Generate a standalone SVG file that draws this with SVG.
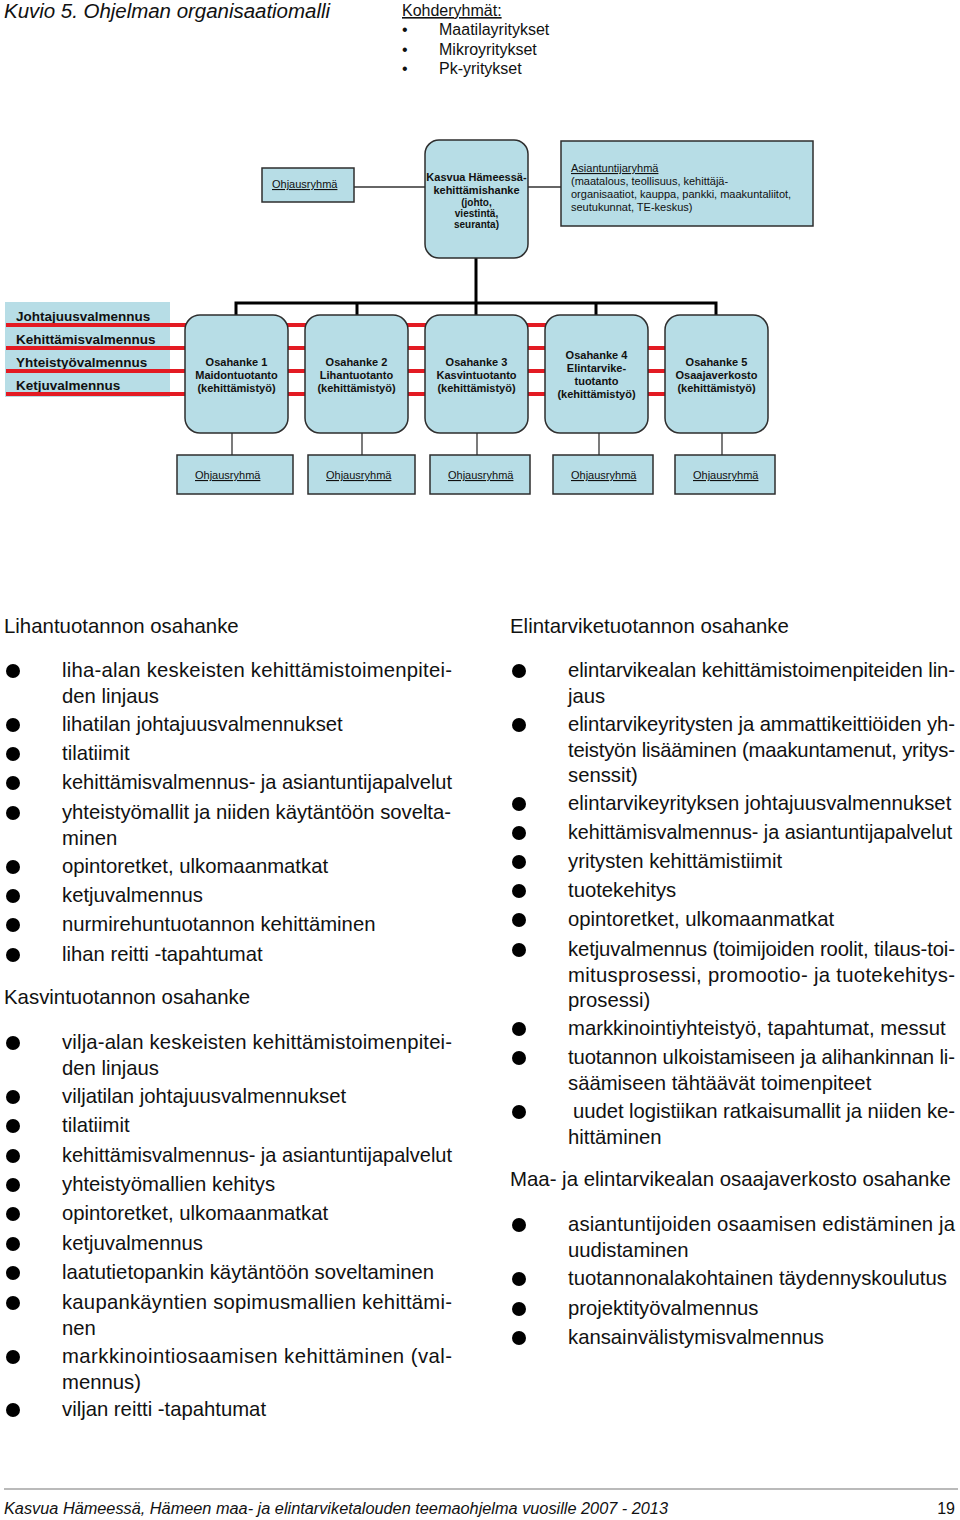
<svg xmlns="http://www.w3.org/2000/svg" width="960" height="1520" viewBox="0 0 960 1520">
<style>
.box{fill:#b7dde6;stroke:#2e2e2e;stroke-width:1.5}
.f{font-family:"Liberation Sans",Arial,sans-serif;fill:#111}
.s11{font-size:11px}
.s10{font-size:10px}
.bold{font-weight:bold}
.u{text-decoration:underline}
.mid{text-anchor:middle}
.red{stroke:#e31b23;stroke-width:4}
.bus{stroke:#000;stroke-width:3;fill:none}
.thin{stroke:#333;stroke-width:1.3;fill:none}
.body{font-family:"Liberation Sans",Arial,sans-serif;font-size:20.3px;fill:#111}
.head{font-family:"Liberation Sans",Arial,sans-serif;font-size:20.4px;fill:#111}
.lbl{font-family:"Liberation Sans",Arial,sans-serif;font-size:13.5px;font-weight:bold;fill:#111}
.dot{fill:#000}
</style>
<rect width="960" height="1520" fill="#fff"/>

<g id="title">
<text class="f" x="4" y="18" font-size="20.5" font-style="italic" textLength="326">Kuvio 5. Ohjelman organisaatiomalli</text>
</g>
<g id="kohderyhmat" class="f" font-size="16">
<text x="402" y="16" class="u">Kohderyhmät:</text>
<text x="402" y="35">•</text><text x="439" y="35">Maatilayritykset</text>
<text x="402" y="55">•</text><text x="439" y="55">Mikroyritykset</text>
<text x="402" y="74">•</text><text x="439" y="74">Pk-yritykset</text>
</g>

<g id="connectors">
<line class="thin" x1="354" y1="187" x2="425" y2="187"/>
<line class="thin" x1="528" y1="187" x2="561" y2="187"/>
<line class="bus" x1="476" y1="258" x2="476" y2="303"/>
<polyline class="bus" points="236,316 236,303 716,303 716,316"/>
<line class="bus" x1="357" y1="303" x2="357" y2="316"/>
<line class="bus" x1="476" y1="303" x2="476" y2="316"/>
<line class="bus" x1="596" y1="303" x2="596" y2="316"/>
<line class="thin" x1="232" y1="433" x2="232" y2="455"/>
<line class="thin" x1="362" y1="433" x2="362" y2="455"/>
<line class="thin" x1="477" y1="433" x2="477" y2="455"/>
<line class="thin" x1="599" y1="433" x2="599" y2="455"/>
<line class="thin" x1="722" y1="433" x2="722" y2="455"/>
</g>

<g id="ohjausryhma-top">
<rect class="box" x="262" y="168" width="92" height="34"/>
<text class="f s11 u" x="272" y="188">Ohjausryhmä</text>
</g>
<g id="kasvua">
<rect class="box" x="425" y="140" width="103" height="118" rx="14"/>
<text class="f s11 bold mid" x="476.5" y="181">Kasvua Hämeessä-</text>
<text class="f s11 bold mid" x="476.5" y="194">kehittämishanke</text>
<text class="f s10 bold mid" x="476.5" y="206">(johto,</text>
<text class="f s10 bold mid" x="476.5" y="217">viestintä,</text>
<text class="f s10 bold mid" x="476.5" y="228">seuranta)</text>
</g>
<g id="asiantuntijaryhma">
<rect class="box" x="561" y="141" width="252" height="85"/>
<text class="f s11 u" x="571" y="172">Asiantuntijaryhmä</text>
<text class="f s11" x="571" y="185">(maatalous, teollisuus, kehittäjä-</text>
<text class="f s11" x="571" y="198">organisaatiot, kauppa, pankki, maakuntaliitot,</text>
<text class="f s11" x="571" y="211">seutukunnat, TE-keskus)</text>
</g>

<g id="valmennukset">
<rect x="5" y="302" width="165" height="95" fill="#b7dde6"/>
<text class="lbl" x="16" y="321">Johtajuusvalmennus</text>
<text class="lbl" x="16" y="344">Kehittämisvalmennus</text>
<text class="lbl" x="16" y="367">Yhteistyövalmennus</text>
<text class="lbl" x="16" y="390">Ketjuvalmennus</text>
</g>
<g id="red-lines">
<line class="red" x1="6" y1="325" x2="550" y2="325"/>
<line class="red" x1="6" y1="348" x2="668" y2="348"/>
<line class="red" x1="6" y1="371" x2="668" y2="371"/>
<line class="red" x1="6" y1="394" x2="668" y2="394"/>
</g>

<g id="osahanke1">
<rect class="box" x="185" y="315" width="103" height="118" rx="15"/>
<text class="f s11 bold mid" x="236.5" y="366">Osahanke 1</text>
<text class="f s11 bold mid" x="236.5" y="379">Maidontuotanto</text>
<text class="f s11 bold mid" x="236.5" y="392">(kehittämistyö)</text>
</g>
<g id="osahanke2">
<rect class="box" x="305" y="315" width="103" height="118" rx="15"/>
<text class="f s11 bold mid" x="356.5" y="366">Osahanke 2</text>
<text class="f s11 bold mid" x="356.5" y="379">Lihantuotanto</text>
<text class="f s11 bold mid" x="356.5" y="392">(kehittämistyö)</text>
</g>
<g id="osahanke3">
<rect class="box" x="425" y="315" width="103" height="118" rx="15"/>
<text class="f s11 bold mid" x="476.5" y="366">Osahanke 3</text>
<text class="f s11 bold mid" x="476.5" y="379">Kasvintuotanto</text>
<text class="f s11 bold mid" x="476.5" y="392">(kehittämistyö)</text>
</g>
<g id="osahanke4">
<rect class="box" x="545" y="315" width="103" height="118" rx="15"/>
<text class="f s11 bold mid" x="596.5" y="359">Osahanke 4</text>
<text class="f s11 bold mid" x="596.5" y="372">Elintarvike-</text>
<text class="f s11 bold mid" x="596.5" y="385">tuotanto</text>
<text class="f s11 bold mid" x="596.5" y="398">(kehittämistyö)</text>
</g>
<g id="osahanke5">
<rect class="box" x="665" y="315" width="103" height="118" rx="15"/>
<text class="f s11 bold mid" x="716.5" y="366">Osahanke 5</text>
<text class="f s11 bold mid" x="716.5" y="379">Osaajaverkosto</text>
<text class="f s11 bold mid" x="716.5" y="392">(kehittämistyö)</text>
</g>

<g id="ohjausryhma1"><rect class="box" x="177" y="455" width="116" height="39"/><text class="f s11 u" x="195" y="479">Ohjausryhmä</text></g>
<g id="ohjausryhma2"><rect class="box" x="308" y="455" width="107" height="39"/><text class="f s11 u" x="326" y="479">Ohjausryhmä</text></g>
<g id="ohjausryhma3"><rect class="box" x="430" y="455" width="100" height="39"/><text class="f s11 u" x="448" y="479">Ohjausryhmä</text></g>
<g id="ohjausryhma4"><rect class="box" x="553" y="455" width="100" height="39"/><text class="f s11 u" x="571" y="479">Ohjausryhmä</text></g>
<g id="ohjausryhma5"><rect class="box" x="675" y="455" width="100" height="39"/><text class="f s11 u" x="693" y="479">Ohjausryhmä</text></g>

<g id="lihantuotanto">
<text class="head" x="4" y="633">Lihantuotannon osahanke</text>
<circle class="dot" cx="13" cy="671" r="7"/><text class="body" x="62" y="677" textLength="390" lengthAdjust="spacing">liha-alan keskeisten kehittämistoimenpitei-</text>
<text class="body" x="62" y="703">den linjaus</text>
<circle class="dot" cx="13" cy="725" r="7"/><text class="body" x="62" y="731">lihatilan johtajuusvalmennukset</text>
<circle class="dot" cx="13" cy="754" r="7"/><text class="body" x="62" y="760">tilatiimit</text>
<circle class="dot" cx="13" cy="783" r="7"/><text class="body" x="62" y="789" textLength="390" lengthAdjust="spacingAndGlyphs">kehittämisvalmennus- ja asiantuntijapalvelut</text>
<circle class="dot" cx="13" cy="813" r="7"/><text class="body" x="62" y="819" textLength="389" lengthAdjust="spacing">yhteistyömallit ja niiden käytäntöön sovelta-</text>
<text class="body" x="62" y="845">minen</text>
<circle class="dot" cx="13" cy="867" r="7"/><text class="body" x="62" y="873">opintoretket, ulkomaanmatkat</text>
<circle class="dot" cx="13" cy="896" r="7"/><text class="body" x="62" y="902">ketjuvalmennus</text>
<circle class="dot" cx="13" cy="925" r="7"/><text class="body" x="62" y="931">nurmirehuntuotannon kehittäminen</text>
<circle class="dot" cx="13" cy="955" r="7"/><text class="body" x="62" y="961">lihan reitti -tapahtumat</text>
</g>

<g id="kasvintuotanto">
<text class="head" x="4" y="1004">Kasvintuotannon osahanke</text>
<circle class="dot" cx="13" cy="1043" r="7"/><text class="body" x="62" y="1049" textLength="390" lengthAdjust="spacing">vilja-alan keskeisten kehittämistoimenpitei-</text>
<text class="body" x="62" y="1075">den linjaus</text>
<circle class="dot" cx="13" cy="1097" r="7"/><text class="body" x="62" y="1103">viljatilan johtajuusvalmennukset</text>
<circle class="dot" cx="13" cy="1126" r="7"/><text class="body" x="62" y="1132">tilatiimit</text>
<circle class="dot" cx="13" cy="1156" r="7"/><text class="body" x="62" y="1162" textLength="390" lengthAdjust="spacingAndGlyphs">kehittämisvalmennus- ja asiantuntijapalvelut</text>
<circle class="dot" cx="13" cy="1185" r="7"/><text class="body" x="62" y="1191">yhteistyömallien kehitys</text>
<circle class="dot" cx="13" cy="1214" r="7"/><text class="body" x="62" y="1220">opintoretket, ulkomaanmatkat</text>
<circle class="dot" cx="13" cy="1244" r="7"/><text class="body" x="62" y="1250">ketjuvalmennus</text>
<circle class="dot" cx="13" cy="1273" r="7"/><text class="body" x="62" y="1279">laatutietopankin käytäntöön soveltaminen</text>
<circle class="dot" cx="13" cy="1303" r="7"/><text class="body" x="62" y="1309" textLength="390" lengthAdjust="spacing">kaupankäyntien sopimusmallien kehittämi-</text>
<text class="body" x="62" y="1335">nen</text>
<circle class="dot" cx="13" cy="1357" r="7"/><text class="body" x="62" y="1363" textLength="390" lengthAdjust="spacing">markkinointiosaamisen kehittäminen (val-</text>
<text class="body" x="62" y="1389">mennus)</text>
<circle class="dot" cx="13" cy="1410" r="7"/><text class="body" x="62" y="1416">viljan reitti -tapahtumat</text>
</g>

<g id="elintarviketuotanto">
<text class="head" x="510" y="633">Elintarviketuotannon osahanke</text>
<circle class="dot" cx="519" cy="671" r="7"/><text class="body" x="568" y="677" textLength="387" lengthAdjust="spacing">elintarvikealan kehittämistoimenpiteiden lin-</text>
<text class="body" x="568" y="703">jaus</text>
<circle class="dot" cx="519" cy="725" r="7"/><text class="body" x="568" y="731" textLength="387" lengthAdjust="spacing">elintarvikeyritysten ja ammattikeittiöiden yh-</text>
<text class="body" x="568" y="757" textLength="387" lengthAdjust="spacing">teistyön lisääminen (maakuntamenut, yritys-</text>
<text class="body" x="568" y="782">senssit)</text>
<circle class="dot" cx="519" cy="804" r="7"/><text class="body" x="568" y="810">elintarvikeyrityksen johtajuusvalmennukset</text>
<circle class="dot" cx="519" cy="833" r="7"/><text class="body" x="568" y="839" style="font-size:19.7px">kehittämisvalmennus- ja asiantuntijapalvelut</text>
<circle class="dot" cx="519" cy="862" r="7"/><text class="body" x="568" y="868">yritysten kehittämistiimit</text>
<circle class="dot" cx="519" cy="891" r="7"/><text class="body" x="568" y="897">tuotekehitys</text>
<circle class="dot" cx="519" cy="920" r="7"/><text class="body" x="568" y="926">opintoretket, ulkomaanmatkat</text>
<circle class="dot" cx="519" cy="950" r="7"/><text class="body" x="568" y="956" textLength="387" lengthAdjust="spacing">ketjuvalmennus (toimijoiden roolit, tilaus-toi-</text>
<text class="body" x="568" y="982" textLength="387" lengthAdjust="spacing">mitusprosessi, promootio- ja tuotekehitys-</text>
<text class="body" x="568" y="1007">prosessi)</text>
<circle class="dot" cx="519" cy="1029" r="7"/><text class="body" x="568" y="1035">markkinointiyhteistyö, tapahtumat, messut</text>
<circle class="dot" cx="519" cy="1058" r="7"/><text class="body" x="568" y="1064" textLength="387" lengthAdjust="spacing">tuotannon ulkoistamiseen ja alihankinnan li-</text>
<text class="body" x="568" y="1090">säämiseen tähtäävät toimenpiteet</text>
<circle class="dot" cx="519" cy="1112" r="7"/><text class="body" x="573" y="1118" textLength="382" lengthAdjust="spacing">uudet logistiikan ratkaisumallit ja niiden ke-</text>
<text class="body" x="568" y="1144">hittäminen</text>
</g>

<g id="osaajaverkosto">
<text class="head" x="510" y="1186">Maa- ja elintarvikealan osaajaverkosto osahanke</text>
<circle class="dot" cx="519" cy="1225" r="7"/><text class="body" x="568" y="1231" textLength="387" lengthAdjust="spacing">asiantuntijoiden osaamisen edistäminen ja</text>
<text class="body" x="568" y="1257">uudistaminen</text>
<circle class="dot" cx="519" cy="1279" r="7"/><text class="body" x="568" y="1285">tuotannonalakohtainen täydennyskoulutus</text>
<circle class="dot" cx="519" cy="1309" r="7"/><text class="body" x="568" y="1315">projektityövalmennus</text>
<circle class="dot" cx="519" cy="1338" r="7"/><text class="body" x="568" y="1344">kansainvälistymisvalmennus</text>
</g>

<g id="footer">
<line x1="4" y1="1489" x2="958" y2="1489" stroke="#777" stroke-width="1.2"/>
<text class="f" x="4" y="1514" font-size="16" font-style="italic" textLength="664" lengthAdjust="spacingAndGlyphs">Kasvua Hämeessä, Hämeen maa- ja elintarviketalouden teemaohjelma vuosille 2007 - 2013</text>
<text class="f" x="955" y="1514" font-size="16" text-anchor="end">19</text>
</g>
</svg>
